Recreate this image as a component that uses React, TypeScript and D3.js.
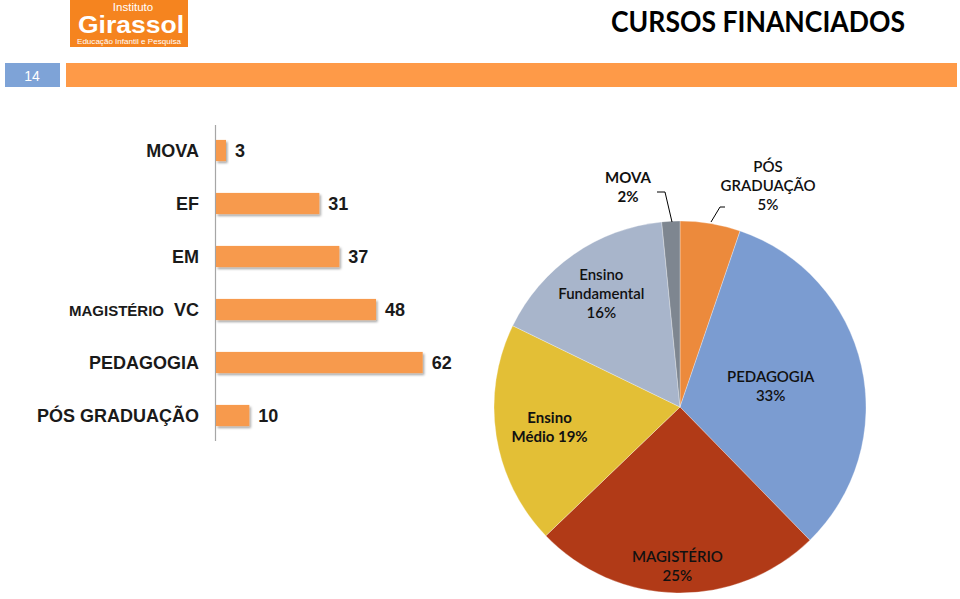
import React from "react";
import * as d3 from "d3";

const categories = ["MOVA", "EF", "EM", "MAGISTÉRIO VC", "PEDAGOGIA", "PÓS GRADUAÇÃO"];
const values = [3, 31, 37, 48, 62, 10];

// pie: slices clockwise from 12 o'clock
const pieOrder = ["PÓS GRADUAÇÃO", "PEDAGOGIA", "MAGISTÉRIO VC", "EM", "EF", "MOVA"];
const pieColors = ["#EC8A3C", "#7B9CD1", "#B13A17", "#E3BF36", "#A8B5CB", "#7E8690"];
const pieLabels = [
  ["PÓS", "GRADUAÇÃO", "5%"],
  ["PEDAGOGIA", "33%"],
  ["MAGISTÉRIO", "25%"],
  ["Ensino", "Médio 19%"],
  ["Ensino", "Fundamental", "16%"],
  ["MOVA", "2%"],
];

const W = 960;
const H = 599;

export default function App() {
  // bar chart
  const y = d3.scaleBand<string>().domain(categories).range([124, 442]).paddingInner(0.6).paddingOuter(0.3);
  const x = d3.scaleLinear().domain([0, 62]).range([215, 421.7]);

  // pie
  const cx = 680, cy = 407, R = 186;
  const pieData = pieOrder.map((name, i) => ({ name, value: values[categories.indexOf(name)], color: pieColors[i], label: pieLabels[i] }));
  const arcs = d3.pie<any>().sort(null).value((d: any) => d.value).startAngle(0).endAngle(2 * Math.PI)(pieData);
  const arcGen = d3.arc<any>().innerRadius(0).outerRadius(R);
  const labelRadius: Record<string, number> = { "PEDAGOGIA": 0.5, "MAGISTÉRIO VC": 0.86, "EM": 0.71, "EF": 0.74 };
  const labelWeight: Record<string, number> = { "PÓS GRADUAÇÃO": 600, "PEDAGOGIA": 600, "MAGISTÉRIO VC": 600, "EM": 700, "EF": 600, "MOVA": 700 };
  const outside: Record<string, { dx: number; dy: number; leader: [number, number][] }> = {
    "PÓS GRADUAÇÃO": { dx: 88, dy: -221, leader: [[45, -200], [40, -200], [31, -185]] },
    "MOVA": { dx: -52, dy: -220, leader: [[-23, -215], [-15, -215], [-8, -185]] },
  };
  const lineH = 19;

  return (
    <svg width={W} height={H} style={{ position: "absolute", left: 0, top: 0, background: "#fff" }}>
      <defs>
        <filter id="sh" x="-10%" y="-30%" width="130%" height="180%">
          <feDropShadow dx="1.5" dy="2" stdDeviation="1.2" floodColor="#000" floodOpacity="0.35" />
        </filter>
      </defs>
      {/* logo */}
      <rect x={70} y={0} width={118} height={47} fill="#F5841F" />
      <text x={133} y={11} textAnchor="middle" fill="#fff" fontFamily="'Liberation Sans', sans-serif" fontSize={11.5}>Instituto</text>
      <text x={131} y={32.5} textAnchor="middle" fill="#fff" fontFamily="'Liberation Sans', sans-serif" fontWeight={700} fontSize={23} textLength={106} lengthAdjust="spacingAndGlyphs">Girassol</text>
      <text x={129} y={44} textAnchor="middle" fill="#fff" fontFamily="'Liberation Sans', sans-serif" fontSize={7.5} textLength={104} lengthAdjust="spacingAndGlyphs">Educação Infantil e Pesquisa</text>
      {/* title */}
      <text x={611} y={32} fill="#000" fontFamily="Lato, sans-serif" fontWeight={700} fontSize={29} textLength={294} lengthAdjust="spacingAndGlyphs">CURSOS FINANCIADOS</text>
      {/* header band */}
      <rect x={5} y={63} width={55} height={24} fill="#7EA3D7" />
      <text x={32} y={80.5} textAnchor="middle" fill="#fff" fontFamily="'Liberation Sans Narrow', 'Liberation Sans', sans-serif" fontSize={14}>14</text>
      <rect x={66} y={63} width={891} height={24} fill="#FE9A48" />

      {/* bars */}
      <line x1={215.5} x2={215.5} y1={125} y2={441} stroke="#A6A6A6" strokeWidth={1.2} />
      {categories.map((c, i) => {
        const yy = y(c)!;
        const bw = y.bandwidth();
        const mid = yy + bw / 2;
        return (
          <g key={c}>
            <rect x={x(0) + 1} y={yy} width={x(values[i]) - x(0)} height={bw} fill="#F79A4E" filter="url(#sh)" />
            <text x={x(values[i]) + 10} y={mid + 6.5} fontFamily="'Liberation Sans', Arial, sans-serif" fontWeight={700} fontSize={18} fill="#1a1a1a">{values[i]}</text>
            {c === "MAGISTÉRIO VC" ? (
              <text x={199} y={mid + 6.5} textAnchor="end" fontFamily="'Liberation Sans', Arial, sans-serif" fontWeight={700} fill="#1a1a1a">
                <tspan fontSize={15}>MAGISTÉRIO</tspan>
                <tspan fontSize={18} dx={10}>VC</tspan>
              </text>
            ) : (
              <text x={199} y={mid + 6.5} textAnchor="end" fontFamily="'Liberation Sans', Arial, sans-serif" fontWeight={700} fontSize={18} fill="#1a1a1a">{c}</text>
            )}
          </g>
        );
      })}

      {/* pie */}
      <g transform={`translate(${cx},${cy})`}>
        {arcs.map((a: any) => (
          <path key={a.data.name} d={arcGen(a)!} fill={a.data.color} stroke="#ffffff" strokeOpacity={0.5} strokeWidth={0.6} />
        ))}
        {arcs.map((a: any) => {
          const name = a.data.name;
          const lines: string[] = a.data.label;
          let px: number, py: number;
          if (outside[name]) {
            px = outside[name].dx;
            py = outside[name].dy;
          } else {
            const mid = (a.startAngle + a.endAngle) / 2;
            const r = R * labelRadius[name];
            px = r * Math.sin(mid);
            py = -r * Math.cos(mid);
          }
          const top = py - ((lines.length - 1) * lineH) / 2;
          return (
            <g key={"l" + name}>
              {outside[name] && (
                <polyline points={outside[name].leader.map((p) => p.join(",")).join(" ")} fill="none" stroke="#000" strokeWidth={1} />
              )}
              <text textAnchor="middle" fontFamily="Lato, sans-serif" fontWeight={labelWeight[name]} fontSize={15} fill="#111">
                {lines.map((l, j) => (
                  <tspan key={j} x={px} y={top + j * lineH + 5}>{l}</tspan>
                ))}
              </text>
            </g>
          );
        })}
      </g>
    </svg>
  );
}
